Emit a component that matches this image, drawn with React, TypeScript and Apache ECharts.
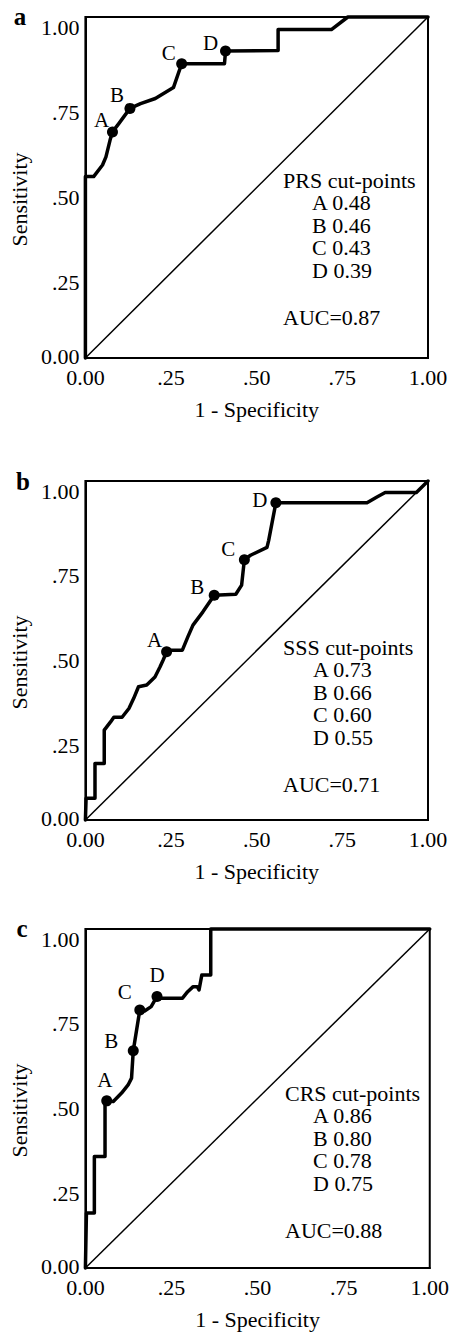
import React, { useEffect, useRef } from "react";
import * as echarts from "echarts";

// ---------- data ----------
const panelLetters = ["a", "b", "c"];
const cutNames = ["A", "B", "C", "D"];
const xAxisTitle = "1 - Specificity";
const yAxisTitle = "Sensitivity";
const diagX = [0, 1];
const diagY = [0, 1];

// a: PRS
const prsX = [0, 0, 0.024, 0.05, 0.06, 0.072, 0.079, 0.098, 0.13, 0.161, 0.204, 0.257, 0.281, 0.406, 0.409, 0.5625, 0.5625, 0.718, 0.766, 1];
const prsY = [0, 0.532, 0.532, 0.566, 0.59, 0.639, 0.663, 0.688, 0.732, 0.746, 0.761, 0.793, 0.863, 0.863, 0.9, 0.902, 0.963, 0.963, 1, 1];
const prsCutX = [0.079, 0.13, 0.281, 0.409];
const prsCutY = [0.663, 0.732, 0.863, 0.9];
const prsLegend = ["PRS cut-points", "A 0.48", "B 0.46", "C 0.43", "D 0.39"];
const prsAuc = "AUC=0.87";

// b: SSS
const sssX = [0, 0.002, 0.028, 0.028, 0.055, 0.055, 0.074, 0.083, 0.107, 0.127, 0.141, 0.155, 0.179, 0.203, 0.218, 0.227, 0.237, 0.251, 0.283, 0.299, 0.314, 0.343, 0.376, 0.439, 0.456, 0.464, 0.482, 0.53, 0.535, 0.556, 0.822, 0.851, 0.875, 0.966, 1];
const sssY = [0, 0.064, 0.064, 0.167, 0.167, 0.265, 0.29, 0.303, 0.303, 0.329, 0.359, 0.393, 0.398, 0.422, 0.452, 0.472, 0.496, 0.501, 0.501, 0.54, 0.575, 0.614, 0.663, 0.666, 0.693, 0.768, 0.781, 0.804, 0.825, 0.936, 0.936, 0.953, 0.966, 0.966, 1];
const sssCutX = [0.237, 0.376, 0.464, 0.556];
const sssCutY = [0.496, 0.663, 0.768, 0.936];
const sssLegend = ["SSS cut-points", "A 0.73", "B 0.66", "C 0.60", "D 0.55"];
const sssAuc = "AUC=0.71";

// c: CRS
const crsX = [0, 0.003, 0.026, 0.026, 0.057, 0.057, 0.062, 0.081, 0.105, 0.124, 0.134, 0.139, 0.158, 0.172, 0.191, 0.208, 0.22, 0.282, 0.297, 0.313, 0.325, 0.33, 0.338, 0.364, 0.364, 1];
const crsY = [0, 0.162, 0.162, 0.329, 0.329, 0.491, 0.493, 0.491, 0.516, 0.54, 0.56, 0.641, 0.761, 0.758, 0.771, 0.801, 0.796, 0.796, 0.815, 0.83, 0.83, 0.82, 0.864, 0.864, 1, 1];
const crsCutX = [0.062, 0.139, 0.158, 0.208];
const crsCutY = [0.493, 0.641, 0.761, 0.801];
const crsLegend = ["CRS cut-points", "A 0.86", "B 0.80", "C 0.78", "D 0.75"];
const crsAuc = "AUC=0.88";

// ---------- layout / style ----------
const FONT = "'Liberation Serif', 'DejaVu Serif', serif";
const grids = [
  { left: 81, top: 17, width: 347, height: 341 },
  { left: 81, top: 481, width: 347, height: 339 },
  { left: 82, top: 929, width: 348, height: 339 },
];
const labelOffsets = [
  [[-11, -12], [-13, -13], [-13, -11], [-15, -8]],
  [[-12, -12], [-17, -8], [-16, -11], [-16, -3]],
  [[-2, -21], [-22, -10], [-15, -18], [0, -21]],
];
const legendPos = [
  { hx: 283, ax: 312, y: 180 },
  { hx: 283, ax: 313, y: 647 },
  { hx: 285, ax: 313, y: 1093 },
];
const letterPos = [
  [20, 16.5],
  [23, 481],
  [22, 928],
];

const panels = [
  { x: prsX, y: prsY, cx: prsCutX, cy: prsCutY, legend: prsLegend, auc: prsAuc },
  { x: sssX, y: sssY, cx: sssCutX, cy: sssCutY, legend: sssLegend, auc: sssAuc },
  { x: crsX, y: crsY, cx: crsCutX, cy: crsCutY, legend: crsLegend, auc: crsAuc },
];

const fmtTick = (v: number) => {
  if (v === 0) return "0.00";
  if (v === 1) return "1.00";
  return "." + String(Math.round(v * 100));
};

export default function App() {
  const ref = useRef<HTMLDivElement>(null);
  useEffect(() => {
    document.body.style.margin = "0";
    const chart = echarts.init(ref.current!, null, { renderer: "svg" });
    const xAxes: any[] = [];
    const yAxes: any[] = [];
    const series: any[] = [];
    const graphics: any[] = [];
    panels.forEach((p, i) => {
      xAxes.push({
        type: "value",
        gridIndex: i,
        min: 0,
        max: 1,
        interval: 0.25,
        axisLine: { show: true, lineStyle: { color: "#000", width: 2 } },
        axisTick: { show: false },
        splitLine: { show: false },
        axisLabel: {
          color: "#000",
          fontFamily: FONT,
          fontSize: 22,
          margin: 8,
          formatter: (v: number) => fmtTick(v),
        },
        name: xAxisTitle,
        nameLocation: "middle",
        nameGap: 40,
        nameTextStyle: { color: "#000", fontFamily: FONT, fontSize: 22 },
      });
      yAxes.push({
        type: "value",
        gridIndex: i,
        min: 0,
        max: 1,
        interval: 0.25,
        axisLine: { show: true, lineStyle: { color: "#000", width: 2 } },
        axisTick: { show: false },
        splitLine: { show: false },
        axisLabel: {
          color: "#000",
          fontFamily: FONT,
          fontSize: 22,
          margin: 6,
          formatter: (v: number) => (v === 0 ? "{z|" + fmtTick(v) + "}" : "{n|" + fmtTick(v) + "}"),
          rich: {
            z: { color: "#000", fontFamily: FONT, fontSize: 22, padding: [0, 0, 4, 0] },
            n: { color: "#000", fontFamily: FONT, fontSize: 22, padding: [20, 0, 0, 0] },
          },
        },
        name: yAxisTitle,
        nameLocation: "middle",
        nameGap: 50,
        nameTextStyle: { color: "#000", fontFamily: FONT, fontSize: 22, padding: [0, 24, 0, 0] },
      });
      series.push({
        type: "line",
        xAxisIndex: i,
        yAxisIndex: i,
        data: diagX.map((v, k) => [v, diagY[k]]),
        symbol: "none",
        lineStyle: { color: "#000", width: 1.5 },
        silent: true,
      });
      series.push({
        type: "line",
        xAxisIndex: i,
        yAxisIndex: i,
        data: p.x.map((v, k) => [v, p.y[k]]),
        symbol: "none",
        clip: false,
        lineStyle: { color: "#000", width: 3.5, join: "round", cap: "round" },
        silent: true,
      });
      series.push({
        type: "scatter",
        xAxisIndex: i,
        yAxisIndex: i,
        symbol: "circle",
        symbolSize: 11,
        itemStyle: { color: "#000", opacity: 1 },
        data: p.cx.map((v, k) => ({
          value: [v, p.cy[k]],
          name: cutNames[k],
          label: { offset: labelOffsets[i][k] },
        })),
        label: {
          show: true,
          position: "inside",
          formatter: (d: any) => d.name,
          color: "#000",
          textBorderWidth: 0,
          textBorderColor: "transparent",
          fontFamily: FONT,
          fontSize: 21,
        },
        clip: false,
        silent: true,
      });
      const lp = legendPos[i];
      p.legend.forEach((t, k) => {
        graphics.push({
          type: "text",
          x: k === 0 ? lp.hx : lp.ax,
          y: lp.y + 22.5 * k,
          style: { text: t, fill: "#000", font: "22px " + FONT, textVerticalAlign: "middle" },
        });
      });
      graphics.push({
        type: "text",
        x: lp.hx,
        y: lp.y + 137,
        style: { text: p.auc, fill: "#000", font: "22px " + FONT, textVerticalAlign: "middle" },
      });
      graphics.push({
        type: "text",
        x: letterPos[i][0],
        y: letterPos[i][1],
        style: {
          text: panelLetters[i],
          fill: "#000",
          font: "bold 25px " + FONT,
          textAlign: "center",
          textVerticalAlign: "middle",
        },
      });
    });
    chart.setOption({
      animation: false,
      backgroundColor: "#fff",
      grid: grids.map((g) => ({ ...g, show: true, borderColor: "#000", borderWidth: 2, containLabel: false })),
      xAxis: xAxes,
      yAxis: yAxes,
      series,
      graphic: graphics,
    });
    return () => chart.dispose();
  }, []);
  return <div ref={ref} style={{ width: 452, height: 1335 }} />;
}
